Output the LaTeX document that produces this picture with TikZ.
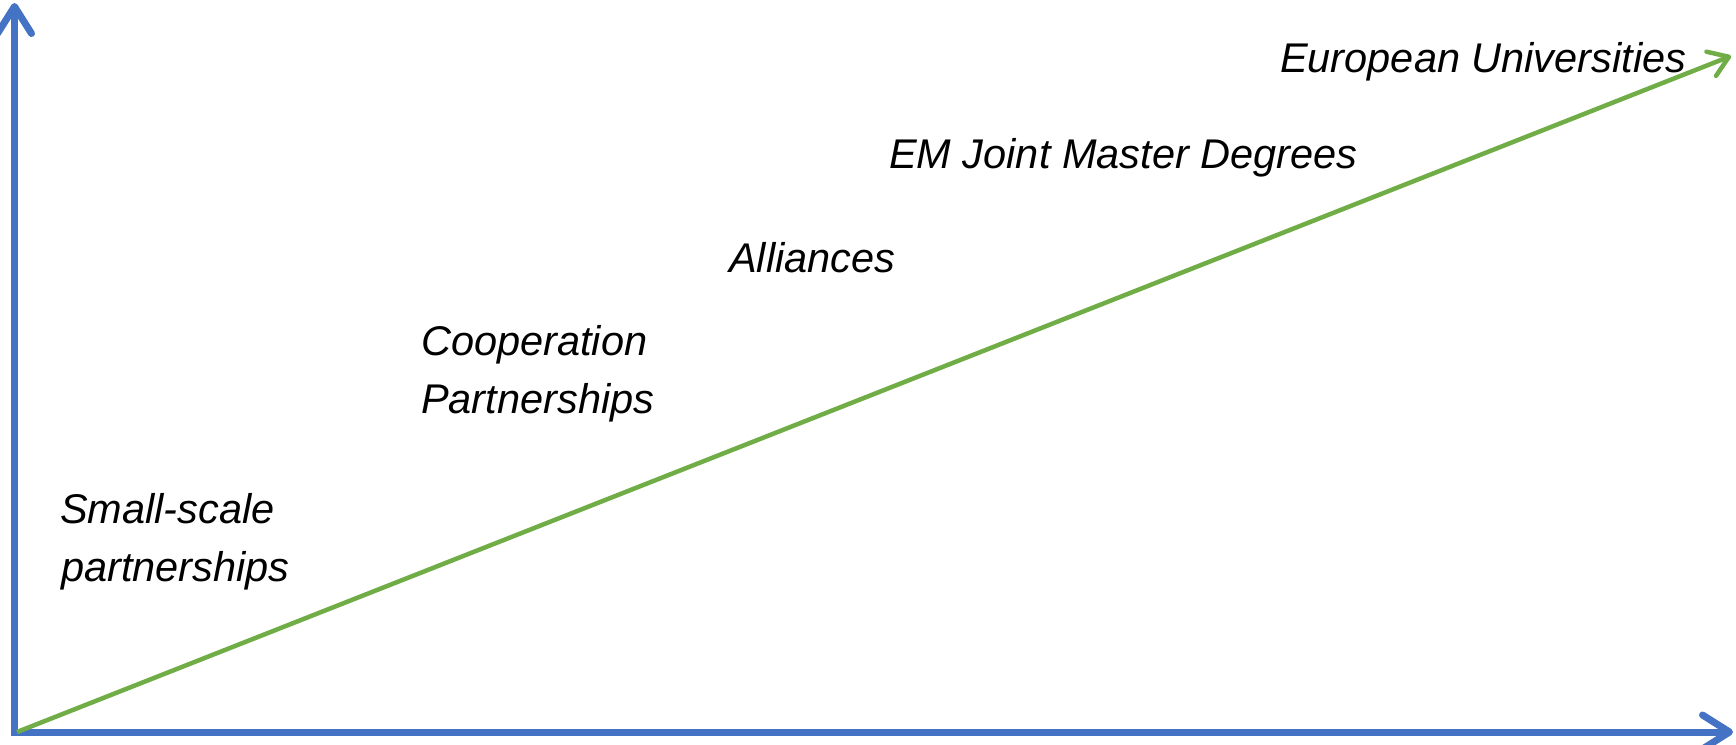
\documentclass[tikz,border=0pt]{standalone}
\usepackage{fontspec}
\setmainfont{Liberation Sans}
\usetikzlibrary{arrows.meta}
\definecolor{axisblue}{HTML}{4472C4}
\definecolor{trendgreen}{HTML}{70AD47}
\tikzset{
  axisline/.style={draw=axisblue, line width=7pt, line cap=rect,
    -{Straight Barb[length=27pt,width=34pt,round]}},
  trendline/.style={draw=trendgreen, line width=4.5pt,
    -{Straight Barb[length=19pt,width=26pt,round]}},
  lbl/.style={anchor=base west, inner sep=0pt, text=black,
    font=\fontsize{41.5}{52}\selectfont\itshape}
}
\begin{document}
\begin{tikzpicture}[x=1pt,y=-1pt]
  \useasboundingbox (0,0) rectangle (1736,744);
  \coordinate (O) at (14.5,732);
  \coordinate (Ytip) at (14.5,3);
  \coordinate (Xtip) at (1733,732);
  \coordinate (Gstart) at (17,732);
  \coordinate (Gtip) at (1731,56);
  \draw[axisline] (O) -- (Ytip);
  \draw[axisline] (O) -- (Xtip);
  \draw[trendline] (Gstart) -- (Gtip);
  \node[lbl] (ss1) at (60,523) {Small-scale};
  \node[lbl] (ss2) at (61,581) {partnerships};
  \node[lbl] (cp1) at (421,355) {Cooperation};
  \node[lbl] (cp2) at (421,413) {Partnerships};
  \node[lbl] (al) at (729,272) {Alliances};
  \node[lbl] (em) at (889,168) {EM Joint Master Degrees};
  \node[lbl] (eu) at (1280,72) {European Universities};
\end{tikzpicture}
\end{document}
